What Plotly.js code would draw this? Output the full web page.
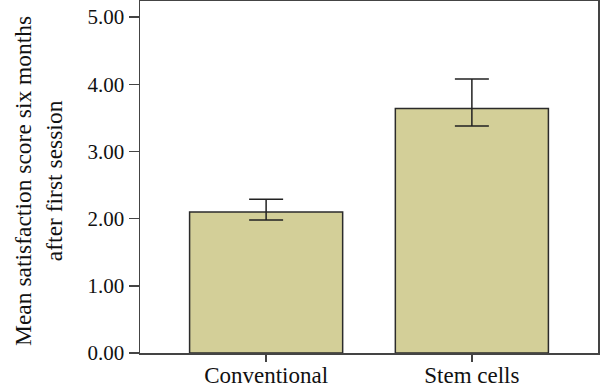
<!DOCTYPE html>
<html><head><meta charset="utf-8">
<script src="https://cdn.plot.ly/plotly-3.0.1.min.js"></script>
<style>html,body{margin:0;padding:0;background:#fff}</style>
</head><body>
<div id="chart" style="width:600px;height:390px"></div>
<script>
const categories = ["Conventional", "Stem cells"];
const means = [2.10, 3.64];
const upper = [2.29, 4.08];
const lower = [1.98, 3.38];
const tickVals = [0, 1, 2, 3, 4, 5];
const tickText = ["0.00", "1.00", "2.00", "3.00", "4.00", "5.00"];
const yTitle = "Mean satisfaction score six months<br>after first session";

const font = "'Liberation Serif', 'Times New Roman', Times, serif";
const trace = {
  type: "bar",
  x: categories,
  y: means,
  width: 0.744,
  marker: {color: "#d3cf98", line: {color: "#2b2b2b", width: 1.5}},
  error_y: {
    type: "data", symmetric: false,
    array: upper.map((u, i) => u - means[i]),
    arrayminus: means.map((m, i) => m - lower[i]),
    color: "#222", thickness: 1.5, width: 17
  },
  hoverinfo: "none"
};
const layout = {
  width: 600, height: 390,
  margin: {l: 140, r: 2, t: 1, b: 37},
  paper_bgcolor: "#fff", plot_bgcolor: "#fff",
  showlegend: false,
  font: {family: font, color: "#111", size: 21},
  xaxis: {
    range: [-0.613, 1.613],
    showline: true, linecolor: "#444", linewidth: 1.5, mirror: true,
    ticks: "outside", ticklen: 7, tickcolor: "#444", tickwidth: 1.5,
    ticklabelstandoff: -6,
    tickfont: {family: font, size: 23, color: "#111"},
    showgrid: false, zeroline: false
  },
  yaxis: {
    range: [0, 5.24],
    tickvals: tickVals, ticktext: tickText,
    showline: true, linecolor: "#444", linewidth: 1.5, mirror: true,
    ticks: "outside", ticklen: 10, tickcolor: "#444", tickwidth: 1.5,
    tickfont: {family: font, size: 21, color: "#111"},
    showgrid: false, zeroline: false
  },
  annotations: [{
    text: yTitle, xref: "paper", yref: "paper", x: 0, y: 0.5,
    xanchor: "center", yanchor: "middle", xshift: -102, yshift: -4,
    textangle: -90, showarrow: false,
    font: {family: font, size: 23.5, color: "#111"}
  }]
};
Plotly.newPlot("chart", [trace], layout, {staticPlot: true});
</script>
</body></html>
